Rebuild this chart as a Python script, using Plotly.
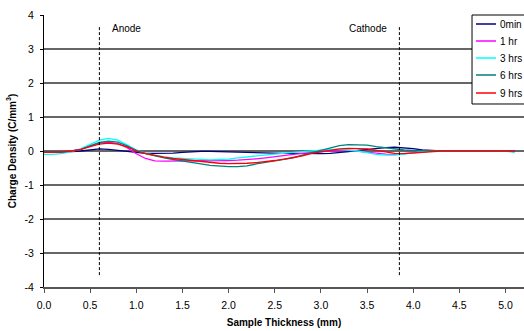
import plotly.graph_objects as go

x_mm = [round(i * 0.1, 1) for i in range(52)]

s_0min = [-0.03, -0.03, -0.03, -0.02, 0.0, 0.04, 0.06, 0.05, 0.02, -0.02,
          -0.05, -0.07, -0.07, -0.07, -0.06, -0.04, -0.02, -0.01, -0.01, -0.02,
          -0.03, -0.04, -0.05, -0.06, -0.07, -0.07, -0.07, -0.07, -0.08, -0.08,
          -0.08, -0.07, -0.05, -0.02, 0.02, 0.05, 0.08, 0.10, 0.11, 0.10,
          0.07, 0.03, 0.01, 0.0, 0.0, 0.0, 0.0, 0.0, 0.0, 0.0,
          0.0, 0.0]
s_1hr = [-0.04, -0.04, -0.03, 0.0, 0.05, 0.15, 0.23, 0.26, 0.22, 0.10,
         -0.08, -0.22, -0.29, -0.30, -0.30, -0.30, -0.30, -0.30, -0.30, -0.29,
         -0.28, -0.27, -0.26, -0.23, -0.20, -0.16, -0.13, -0.10, -0.07, -0.04,
         -0.01, 0.02, 0.03, 0.02, 0.0, -0.03, -0.06, -0.09, -0.10, -0.08,
         -0.05, -0.02, 0.0, 0.0, 0.0, 0.0, 0.0, 0.0, 0.0, 0.0,
         0.0, 0.0]
s_3hrs = [-0.10, -0.10, -0.07, -0.02, 0.07, 0.20, 0.32, 0.37, 0.32, 0.18,
          0.03, -0.07, -0.13, -0.17, -0.20, -0.22, -0.24, -0.25, -0.26, -0.25,
          -0.24, -0.20, -0.17, -0.14, -0.11, -0.08, -0.06, -0.04, -0.02, 0.01,
          0.03, 0.05, 0.05, 0.03, 0.0, -0.05, -0.10, -0.12, -0.12, -0.09,
          -0.05, -0.02, 0.0, 0.0, 0.0, 0.0, 0.0, 0.0, 0.0, 0.0,
          0.0, -0.05]
s_6hrs = [-0.03, -0.03, -0.02, 0.0, 0.05, 0.15, 0.25, 0.29, 0.26, 0.15,
          0.02, -0.08, -0.15, -0.20, -0.25, -0.30, -0.34, -0.38, -0.42, -0.45,
          -0.46, -0.46, -0.44, -0.38, -0.34, -0.30, -0.25, -0.20, -0.12, -0.05,
          0.03, 0.10, 0.16, 0.19, 0.19, 0.17, 0.13, 0.09, 0.05, 0.03,
          0.02, 0.01, 0.0, 0.0, 0.0, 0.0, 0.0, 0.0, 0.0, 0.0,
          0.0, 0.0]
s_9hrs = [-0.04, -0.04, -0.03, 0.0, 0.05, 0.13, 0.20, 0.23, 0.20, 0.12,
          0.0, -0.08, -0.14, -0.18, -0.22, -0.25, -0.28, -0.31, -0.34, -0.36,
          -0.37, -0.37, -0.36, -0.34, -0.32, -0.28, -0.24, -0.20, -0.14, -0.07,
          -0.02, 0.03, 0.06, 0.08, 0.08, 0.06, 0.02, -0.03, -0.07, -0.08,
          -0.06, -0.03, -0.01, 0.0, 0.0, 0.0, 0.0, 0.0, 0.0, 0.0,
          0.0, 0.0]

series_names = ["0min", "1 hr", "3 hrs", "6 hrs", "9 hrs"]
series_values = [s_0min, s_1hr, s_3hrs, s_6hrs, s_9hrs]
series_colors = ["#000080", "#FF00FF", "#00FFFF", "#008080", "#FF0000"]

y_tick_vals = [-4, -3, -2, -1, 0, 1, 2, 3, 4]
y_tick_text = ["-4", "-3", "-2", "-1", "0", "1", "2", "3", "4"]

electrode_labels = ["Anode", "Cathode"]
electrode_x = [0.6, 3.85]
label_x = [0.72, 3.28]

fig = go.Figure()
for name, vals, col in zip(series_names, series_values, series_colors):
    fig.add_trace(go.Scatter(x=x_mm, y=vals, mode="lines", name=name,
                             line=dict(color=col, width=1.3), showlegend=False))

for ex in electrode_x:
    fig.add_shape(type="line", x0=ex, x1=ex, y0=-3.65, y1=3.65,
                  xref="x", yref="y", line=dict(color="black", width=1, dash="3px,2px"))
for lab, lx in zip(electrode_labels, label_x):
    fig.add_annotation(x=lx, y=3.6, text=lab, showarrow=False, xref="x", yref="y",
                       xanchor="left", yanchor="middle",
                       font=dict(size=10, color="black"))

# legend box (clipped at the right edge like the original)
fig.add_shape(type="rect", xref="paper", yref="paper",
              x0=0.8917, x1=1.05, y0=0.6728, y1=1.0,
              line=dict(color="black", width=1), fillcolor="white", layer="above")
entry_y = [24, 41, 58, 75, 93]
for name, col, py in zip(series_names, series_colors, entry_y):
    yp = (287 - py) / 272
    fig.add_shape(type="line", xref="paper", yref="paper",
                  x0=0.9, x1=0.9417, y0=yp, y1=yp,
                  line=dict(color=col, width=1.5), layer="above")
    fig.add_annotation(xref="paper", yref="paper", x=0.946, y=yp, text=name,
                       showarrow=False, xanchor="left", yanchor="middle",
                       font=dict(size=10, color="black"))

fig.update_layout(
    width=524, height=331,
    margin=dict(l=44, r=0, t=15, b=44),
    paper_bgcolor="white", plot_bgcolor="white",
    font=dict(family="Liberation Sans, Arial, sans-serif", size=10, color="black"),
    showlegend=False,
)
fig.update_xaxes(range=[0, 5.2], dtick=0.5, tick0=0, tickformat=".1f",
                 showgrid=False, zeroline=False,
                 showline=True, linecolor="#555555", linewidth=2,
                 ticks="outside", ticklen=4, tickcolor="#555555", tickwidth=1,
                 ticklabelstandoff=3,
                 title=dict(text="<b>Sample Thickness (mm)</b>", standoff=9,
                            font=dict(size=10)),
                 tickfont=dict(size=10.5))
fig.update_yaxes(range=[-4, 4], tickmode="array", tickvals=y_tick_vals, ticktext=y_tick_text,
                 showgrid=True, gridcolor="#666666", gridwidth=1.5,
                 zeroline=True, zerolinecolor="#666666", zerolinewidth=1.5,
                 showline=True, linecolor="black", linewidth=1,
                 ticks="outside", ticklen=3, tickcolor="black",
                 ticklabelstandoff=4,
                 title=dict(text="<b>Charge Density (C/mm<sup>3</sup>)</b>", standoff=6,
                            font=dict(size=10)),
                 tickfont=dict(size=10.5))

fig.write_html("out.html")
